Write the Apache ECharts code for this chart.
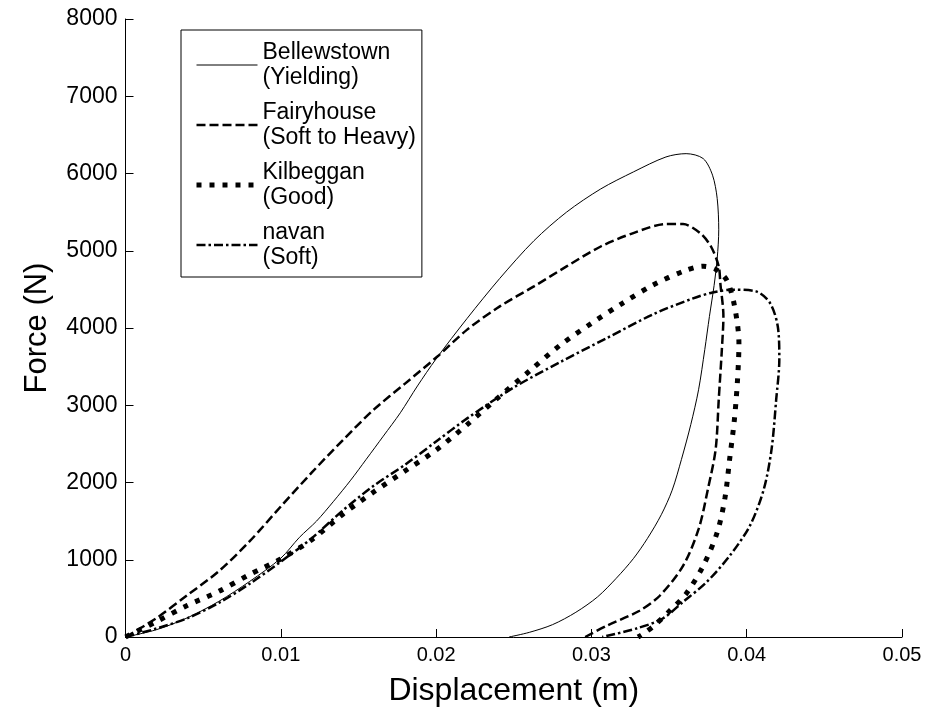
<!DOCTYPE html>
<html>
<head>
<meta charset="utf-8">
<script src="https://cdn.jsdelivr.net/npm/echarts@6/dist/echarts.min.js"></script>
<style>
  html, body { margin: 0; padding: 0; background: #fff; }
  #box { width: 933px; height: 712px; }
</style>
</head>
<body>
<div id="box"></div>
<script>
// tick labels
var xTicks = [0, 0.01, 0.02, 0.03, 0.04, 0.05];
var yTicks = [0, 1000, 2000, 3000, 4000, 5000, 6000, 7000, 8000];

var names = ["Bellewstown\n(Yielding)", "Fairyhouse\n(Soft to Heavy)", "Kilbeggan\n(Good)", "navan\n(Soft)"];

// Bellewstown (Yielding) - displacement (m) / force (N)
var bellewX = [0, 0.002, 0.004, 0.006, 0.008, 0.010, 0.0112, 0.0123, 0.0134, 0.0145, 0.0155, 0.0166, 0.0177, 0.0188, 0.0200, 0.0220, 0.0241, 0.0263, 0.0284, 0.0306, 0.0327, 0.0348, 0.0361, 0.0372, 0.0378, 0.0381, 0.0382, 0.0381, 0.0379, 0.0376, 0.0373, 0.0369, 0.0364, 0.0358, 0.0352, 0.0345, 0.0336, 0.0327, 0.0316, 0.0304, 0.0290, 0.0275, 0.0260, 0.0247];
var bellewY = [0, 95, 250, 460, 720, 1020, 1290, 1500, 1757, 2030, 2300, 2600, 2903, 3250, 3600, 4125, 4642, 5130, 5500, 5800, 6020, 6214, 6257, 6193, 5978, 5676, 5271, 4900, 4550, 4150, 3720, 3200, 2750, 2300, 1900, 1583, 1273, 1014, 760, 520, 320, 160, 60, 0];

// Fairyhouse (Soft to Heavy)
var fairyX = [0, 0.002, 0.004, 0.006, 0.008, 0.010, 0.012, 0.014, 0.016, 0.018, 0.0201, 0.0220, 0.0241, 0.0263, 0.0284, 0.0306, 0.0327, 0.0348, 0.0359, 0.0370, 0.0377, 0.0382, 0.0383, 0.0385, 0.0384, 0.0382, 0.0380, 0.0375, 0.0369, 0.0359, 0.0344, 0.0331, 0.0310, 0.0296];
var fairyY = [0, 245, 545, 850, 1240, 1690, 2130, 2550, 2946, 3280, 3634, 3979, 4280, 4539, 4797, 5055, 5229, 5345, 5345, 5229, 5055, 4797, 4583, 4151, 3721, 3075, 2429, 1912, 1395, 921, 534, 340, 146, 0];

// Kilbeggan (Good)
var kilbX = [0, 0.002, 0.004, 0.006, 0.008, 0.010, 0.012, 0.014, 0.016, 0.018, 0.020, 0.022, 0.024, 0.026, 0.028, 0.030, 0.032, 0.034, 0.036, 0.0372, 0.0380, 0.0387, 0.0392, 0.0395, 0.0394, 0.0392, 0.0389, 0.0386, 0.0381, 0.0372, 0.0361, 0.0350, 0.0340, 0.0334, 0.0330];
var kilbY = [0, 200, 410, 590, 810, 1010, 1260, 1590, 1880, 2150, 2420, 2750, 3100, 3440, 3780, 4060, 4320, 4560, 4740, 4800, 4760, 4625, 4300, 3800, 3300, 2800, 2300, 1800, 1353, 921, 560, 330, 140, 50, 0];

// navan (Soft)
var navanX = [0, 0.002, 0.004, 0.006, 0.008, 0.010, 0.012, 0.014, 0.016, 0.018, 0.020, 0.022, 0.025, 0.028, 0.031, 0.034, 0.0365, 0.0378, 0.0391, 0.0406, 0.0415, 0.0420, 0.0421, 0.0419, 0.0416, 0.0411, 0.0402, 0.0389, 0.0374, 0.0359, 0.0346, 0.0329, 0.0307];
var navanY = [0, 110, 245, 440, 690, 975, 1280, 1640, 1960, 2230, 2530, 2830, 3230, 3560, 3870, 4180, 4380, 4460, 4496, 4474, 4324, 4022, 3592, 3075, 2429, 1912, 1438, 1050, 707, 455, 240, 110, 0];

function pairs(xs, ys) {
  var out = [];
  for (var i = 0; i < xs.length; i++) out.push([xs[i], ys[i]]);
  return out;
}

var font = "Liberation Sans, Arial, sans-serif";
var myChart = echarts.init(document.getElementById("box"));

function line(name, xs, ys, width, type) {
  return {
    name: name,
    type: "line",
    data: pairs(xs, ys),
    showSymbol: false,
    symbol: "none",
    smooth: 0.3,
    color: "#000",
    lineStyle: { color: "#000", width: width, type: type },
    z: 2
  };
}

var option = {
  animation: false,
  backgroundColor: "#fff",
  textStyle: { fontFamily: font, color: "#000" },
  grid: { left: 125.5, right: 31, top: 19, bottom: 73.5, containLabel: false },
  legend: {
    orient: "vertical",
    left: 181,
    top: 30,
    data: names,
    itemWidth: 61,
    itemHeight: 14,
    itemGap: 10,
    padding: [10, 6, 7, 13],
    borderColor: "#000",
    borderWidth: 1,
    backgroundColor: "#fff",
    itemStyle: { opacity: 0 },
    lineStyle: { width: "inherit", type: "inherit" },
    textStyle: { fontFamily: font, fontSize: 23, lineHeight: 25, color: "#000" }
  },
  xAxis: {
    type: "value",
    min: xTicks[0],
    max: xTicks[xTicks.length - 1],
    interval: 0.01,
    name: "Displacement (m)",
    nameLocation: "middle",
    nameGap: 38,
    nameTextStyle: { fontFamily: font, fontSize: 32, color: "#000" },
    axisLine: { lineStyle: { color: "#000", width: 1 } },
    axisTick: { inside: true, length: 8, lineStyle: { color: "#000" } },
    axisLabel: { fontFamily: font, fontSize: 20, color: "#000", margin: 8 },
    splitLine: { show: false }
  },
  yAxis: {
    type: "value",
    min: yTicks[0],
    max: yTicks[yTicks.length - 1],
    interval: 1000,
    name: "Force (N)",
    nameLocation: "middle",
    nameGap: 73,
    nameTextStyle: { fontFamily: font, fontSize: 31, color: "#000" },
    axisLine: { show: true, lineStyle: { color: "#000", width: 1 } },
    axisTick: { show: true, inside: true, length: 8, lineStyle: { color: "#000" } },
    axisLabel: { fontFamily: font, fontSize: 23, color: "#000", margin: 8, formatter: function (v) { return String(v); } },
    splitLine: { show: false }
  },
  series: [
    line(names[0], bellewX, bellewY, 1, "solid"),
    line(names[1], fairyX, fairyY, 2.5, [9, 4]),
    line(names[2], kilbX, kilbY, 5, [5, 8]),
    line(names[3], navanX, navanY, 2.5, [9, 3, 2.5, 3])
  ]
};
myChart.setOption(option);
</script>
</body>
</html>
